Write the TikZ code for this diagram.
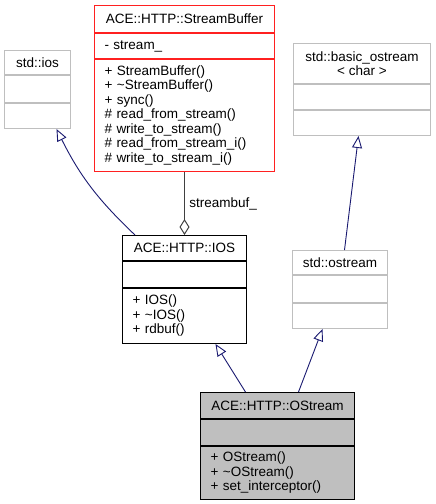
\documentclass[tikz,border=0pt]{standalone}
\usepackage{fontspec}
\setmainfont{Liberation Sans}
\usepackage{tikz}
\usetikzlibrary{arrows.meta,positioning}

\definecolor{sbred}{HTML}{FF2020}
\definecolor{extgray}{HTML}{BFBFBF}
\definecolor{inhblue}{HTML}{191970}
\definecolor{usegray}{HTML}{404040}

\tikzset{
  cls/.style={draw, rectangle, inner sep=0pt, line width=1pt, minimum width=#1,
              font=\fontsize{13.5}{14.5}\selectfont, align=center},
  ops/.style={text width=#1, inner xsep=10pt, align=left},
  inherit/.style={draw=inhblue, line width=0.9pt, -{Triangle[open, length=12pt, width=10pt]}},
  uses/.style={draw=usegray, line width=1pt, -{Diamond[open, length=16pt, width=10pt]}}
}

\begin{document}
\begin{tikzpicture}[x=1pt, y=-1pt]
  \useasboundingbox (0,0) rectangle (436,504);

  % StreamBuffer
  \node[cls=180, draw=sbred, minimum height=27, anchor=north west] (sbufT) at (94,5) {ACE::HTTP::StreamBuffer};
  \node[cls=180, draw=sbred, minimum height=25, ops=160, below=0pt of sbufT] (sbufA) {- stream\_};
  \node[cls=180, draw=sbred, minimum height=112, ops=160, below=0pt of sbufA] (sbufO) {+ StreamBuffer()\\+ \textasciitilde StreamBuffer()\\+ sync()\\\# read\_from\_stream()\\\# write\_to\_stream()\\\# read\_from\_stream\_i()\\\# write\_to\_stream\_i()};

  % std::ios
  \node[cls=66, draw=extgray, minimum height=24, anchor=north west] (stdiosT) at (4,50) {std::ios};
  \node[cls=66, draw=extgray, minimum height=27, below=0pt of stdiosT] (stdiosA) {};
  \node[cls=66, draw=extgray, minimum height=25, below=0pt of stdiosA] (stdiosO) {};

  % std::basic_ostream< char >
  \node[cls=137, draw=extgray, minimum height=40, anchor=north west] (bostT) at (293,43) {std::basic\_ostream\\< char >};
  \node[cls=137, draw=extgray, minimum height=25, below=0pt of bostT] (bostA) {};
  \node[cls=137, draw=extgray, minimum height=25, below=0pt of bostA] (bostO) {};

  % IOS
  \node[cls=124, draw=black, minimum height=25, anchor=north west] (iosT) at (122,235) {ACE::HTTP::IOS};
  \node[cls=124, draw=black, minimum height=26, below=0pt of iosT] (iosA) {};
  \node[cls=124, draw=black, minimum height=55, ops=104, below=0pt of iosA] (iosO) {+ IOS()\\+ \textasciitilde IOS()\\+ rdbuf()};

  % std::ostream
  \node[cls=95, draw=extgray, minimum height=24, anchor=north west] (ostT) at (292,250) {std::ostream};
  \node[cls=95, draw=extgray, minimum height=27, below=0pt of ostT] (ostA) {};
  \node[cls=95, draw=extgray, minimum height=25, below=0pt of ostA] (ostO) {};

  % OStream
  \node[cls=154, draw=black, fill=extgray, minimum height=26, anchor=north west] (osT) at (200,392) {ACE::HTTP::OStream};
  \node[cls=154, draw=black, fill=extgray, minimum height=26, below=0pt of osT] (osA) {};
  \node[cls=154, draw=black, fill=extgray, minimum height=53, ops=134, below=0pt of osA] (osO) {+ OStream()\\+ \textasciitilde OStream()\\+ set\_interceptor()};

  \draw[uses] (sbufO.south) -- (iosT.north) node[midway, right, xshift=1pt, font=\fontsize{13.5}{14.5}\selectfont] (sbufL) {streambuf\_};
  \draw[inherit] ([xshift=13pt]iosT.north west) to[bend left=10] ([xshift=19pt]stdiosO.south);
  \draw[inherit] ([xshift=4.5pt]ostT.north) -- ([xshift=-3.5pt]bostO.south);
  \draw[inherit] ([xshift=-32pt]osT.north) -- ([xshift=31pt]iosO.south);
  \draw[inherit] ([xshift=21pt]osT.north) -- ([xshift=-17.5pt]ostO.south);
\end{tikzpicture}
\end{document}
